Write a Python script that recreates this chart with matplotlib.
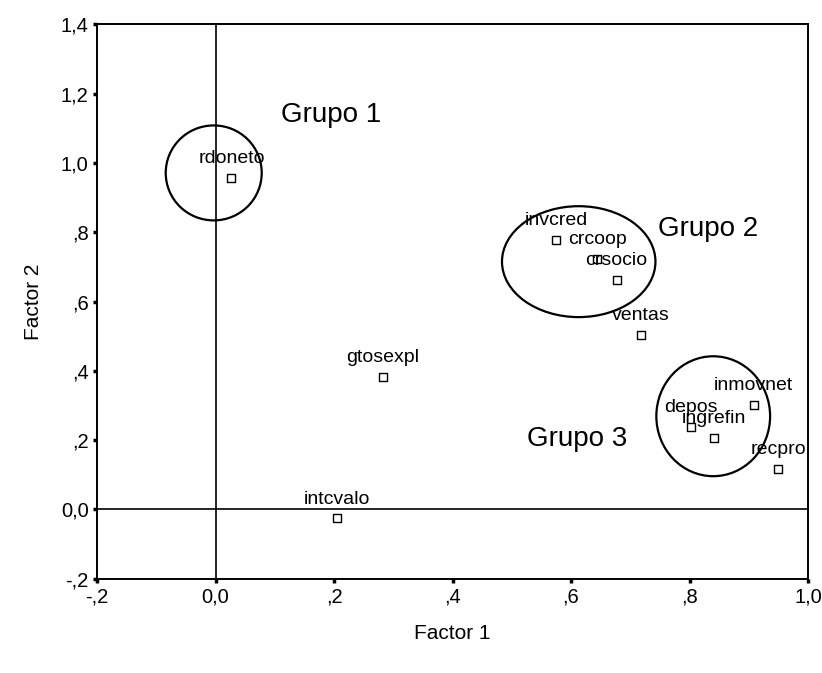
import matplotlib
matplotlib.use("Agg")
import matplotlib.pyplot as plt
from matplotlib.patches import Ellipse
from matplotlib.ticker import FuncFormatter

plt.rcParams['font.family'] = ['Liberation Sans', 'DejaVu Sans']

# Data
variables = ["rdoneto", "invcred", "crcoop", "crsocio", "ventas", "gtosexpl",
             "inmovnet", "depos", "ingrefin", "recpro", "intcvalo"]
factor1 = [0.027, 0.575, 0.644, 0.677, 0.718, 0.282, 0.908, 0.803, 0.842, 0.950, 0.205]
factor2 = [0.957, 0.777, 0.722, 0.662, 0.503, 0.382, 0.301, 0.237, 0.205, 0.118, -0.026]

group_names = ["Grupo 1", "Grupo 2", "Grupo 3"]
group_label_x = [0.195, 0.832, 0.610]
group_label_y = [1.139, 0.809, 0.202]
circle_cx = [-0.003, 0.613, 0.840]
circle_cy = [0.971, 0.715, 0.269]
circle_w = [0.162, 0.259, 0.192]
circle_h = [0.274, 0.320, 0.346]

x_ticks = [-0.2, 0.0, 0.2, 0.4, 0.6, 0.8, 1.0]
y_ticks = [-0.2, 0.0, 0.2, 0.4, 0.6, 0.8, 1.0, 1.2, 1.4]


def fmt(v, pos=None):
    if abs(v) < 1e-9:
        return "0,0"
    s = f"{v:.1f}".replace(".", ",")
    if abs(v) < 1:
        s = s.replace("0,", ",")
    return s


fig = plt.figure(figsize=(8.22, 6.73), dpi=100)
ax = fig.add_axes([0.118, 0.140, 0.865, 0.824])
ax.set_xlim(-0.2, 1.0)
ax.set_ylim(-0.2, 1.4)

ax.axvline(0, color="black", lw=1.2, zorder=1)
ax.axhline(0, color="black", lw=1.2, zorder=1)

ax.scatter(factor1, factor2, marker="s", s=30, facecolors="white",
           edgecolors="black", linewidths=1.0, zorder=3)
for name, x, y in zip(variables, factor1, factor2):
    ax.annotate(name, (x, y), xytext=(0, 14), textcoords="offset points",
                ha="center", va="center", fontsize=14, zorder=4)

for cx, cy, w, h in zip(circle_cx, circle_cy, circle_w, circle_h):
    ax.add_patch(Ellipse((cx, cy), w, h, fill=False, edgecolor="black",
                         lw=1.6, zorder=2))

for name, x, y in zip(group_names, group_label_x, group_label_y):
    ax.text(x, y, name, ha="center", va="center", fontsize=20)

ax.set_xticks(x_ticks)
ax.set_yticks(y_ticks)
ax.xaxis.set_major_formatter(FuncFormatter(fmt))
ax.yaxis.set_major_formatter(FuncFormatter(fmt))
ax.tick_params(axis="both", direction="out", length=3, width=2.5, labelsize=14.5,
               pad=3, top=False, right=False)
for sp in ax.spines.values():
    sp.set_linewidth(1.4)

ax.set_xlabel("Factor 1", fontsize=15, labelpad=13)
ax.set_ylabel("Factor 2", fontsize=15, labelpad=13)

fig.savefig("out.png", dpi=100)
